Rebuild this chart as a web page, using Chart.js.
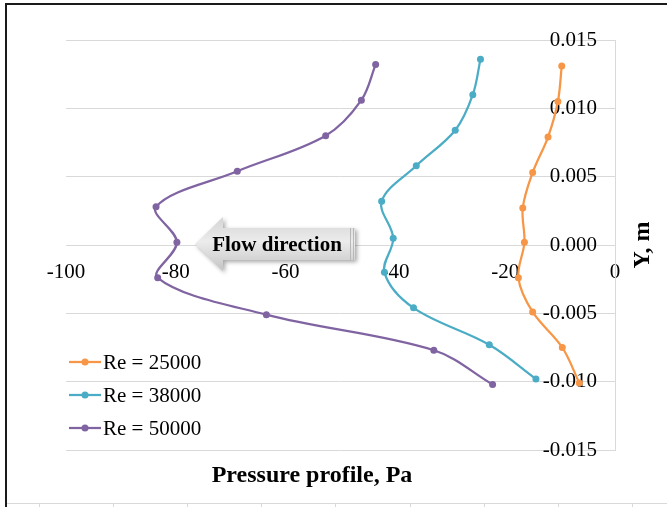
<!DOCTYPE html>
<html>
<head>
<meta charset="utf-8">
<script src="https://cdn.jsdelivr.net/npm/chart.js@4"></script>
<style>
  body { margin: 0; background: #fff; }
  #wrap { width: 667px; height: 507px; }
</style>
</head>
<body>
<div id="wrap"><canvas id="profileChart" width="667" height="507"></canvas></div>
<script>
// Data
const seriesLabels = ['Re = 25000', 'Re = 38000', 'Re = 50000'];
const seriesColors = ['#F79646', '#4BACC6', '#8064A2'];

const re25000P = [-9.7, -10.4, -12.2, -15.0, -16.8, -16.5, -17.6, -15.0, -9.6, -6.5];
const re25000Y = [0.0131, 0.0105, 0.0079, 0.0053, 0.0027, 0.0002, -0.0024, -0.0049, -0.0075, -0.0101];

const re38000P = [-24.5, -25.9, -29.1, -36.2, -42.5, -40.4, -42.0, -36.7, -22.9, -14.4];
const re38000Y = [0.0136, 0.0110, 0.0084, 0.0058, 0.0032, 0.0005, -0.0020, -0.0046, -0.0073, -0.0098];

const re50000P = [-43.6, -46.2, -52.7, -68.8, -83.6, -79.8, -83.3, -63.5, -33.0, -22.3];
const re50000Y = [0.0132, 0.0106, 0.0080, 0.0054, 0.0028, 0.0002, -0.0024, -0.0051, -0.0077, -0.0102];

const xTitle = 'Pressure profile, Pa';
const yTitle = 'Y, m';
const arrowText = 'Flow direction';
const arrowTipP = -76.5;   // pressure where the arrow tip sits, on Y = 0

const FONT = "'Liberation Serif', 'Times New Roman', serif";

function toPoints(xs, ys) {
    return xs.map((v, i) => ({ x: v, y: ys[i] }));
}

const seriesP = [re25000P, re38000P, re50000P];
const seriesY = [re25000Y, re38000Y, re50000Y];

const datasets = seriesLabels.map((label, i) => ({
    label: label,
    data: toPoints(seriesP[i], seriesY[i]),
    showLine: true,
    borderColor: seriesColors[i],
    backgroundColor: seriesColors[i],
    borderWidth: 2.25,
    pointRadius: 3.5,
    pointBorderWidth: 0,
    tension: 0.35
}));

// Frame, arrow, legend and axis titles
const decorPlugin = {
    id: 'decor',
    beforeDraw(chart) {
        const ctx = chart.ctx;
        ctx.save();
        ctx.fillStyle = '#fff';
        ctx.fillRect(0, 0, chart.width, chart.height);
        ctx.strokeStyle = '#1a1a1a';
        ctx.lineWidth = 2;
        ctx.beginPath();
        ctx.moveTo(6, chart.height);
        ctx.lineTo(6, 4);
        ctx.lineTo(chart.width, 4);
        ctx.stroke();
        // sheet cells below the chart
        ctx.strokeStyle = '#d9d9d9';
        ctx.lineWidth = 1;
        ctx.beginPath();
        ctx.moveTo(7, 503.5);
        ctx.lineTo(chart.width, 503.5);
        for (let x = 38.5; x < chart.width; x += 74.2) {
            ctx.moveTo(Math.round(x) + 0.5, 504);
            ctx.lineTo(Math.round(x) + 0.5, chart.height);
        }
        ctx.stroke();
        ctx.restore();
    },
    afterDatasetsDraw(chart) {
        const ctx = chart.ctx;
        const tipX = chart.scales.x.getPixelForValue(arrowTipP);
        const cy = chart.scales.y.getPixelForValue(0) - 1;
        const headW = 28, headH = 27, shaftH = 16, len = 160;

        ctx.save();
        ctx.beginPath();
        ctx.moveTo(tipX, cy);
        ctx.lineTo(tipX + headW, cy - headH);
        ctx.lineTo(tipX + headW, cy - shaftH);
        ctx.lineTo(tipX + len, cy - shaftH);
        ctx.lineTo(tipX + len, cy + shaftH);
        ctx.lineTo(tipX + headW, cy + shaftH);
        ctx.lineTo(tipX + headW, cy + headH);
        ctx.closePath();
        const grad = ctx.createLinearGradient(0, cy - headH, 0, cy + headH);
        grad.addColorStop(0, '#d4d4d4');
        grad.addColorStop(0.45, '#ececec');
        grad.addColorStop(1, '#c4c4c4');
        ctx.shadowColor = 'rgba(0,0,0,0.35)';
        ctx.shadowBlur = 4;
        ctx.shadowOffsetX = 2;
        ctx.shadowOffsetY = 2;
        ctx.fillStyle = grad;
        ctx.fill();
        ctx.shadowColor = 'transparent';
        // striped tail end
        ctx.strokeStyle = '#b8b8b8';
        ctx.lineWidth = 1;
        ctx.beginPath();
        [len - 5, len - 2].forEach(dx => {
            ctx.moveTo(tipX + dx + 0.5, cy - shaftH);
            ctx.lineTo(tipX + dx + 0.5, cy + shaftH);
        });
        ctx.stroke();

        ctx.fillStyle = '#000';
        ctx.font = 'bold 21px ' + FONT;
        ctx.textAlign = 'center';
        ctx.textBaseline = 'middle';
        ctx.fillText(arrowText, tipX + 82, cy + 2);
        ctx.restore();
    },
    afterDraw(chart) {
        const ctx = chart.ctx;
        const area = chart.chartArea;
        ctx.save();

        // legend inside the plot, bottom left
        chart.data.datasets.forEach((ds, i) => {
            const cy = area.bottom - 88 + i * 33;
            const x0 = area.left + 3;
            ctx.strokeStyle = ds.borderColor;
            ctx.lineWidth = 2.25;
            ctx.beginPath();
            ctx.moveTo(x0, cy);
            ctx.lineTo(x0 + 32, cy);
            ctx.stroke();
            ctx.fillStyle = ds.borderColor;
            ctx.beginPath();
            ctx.arc(x0 + 16, cy, 3.5, 0, Math.PI * 2);
            ctx.fill();
            ctx.fillStyle = '#000';
            ctx.font = '21px ' + FONT;
            ctx.textAlign = 'left';
            ctx.textBaseline = 'middle';
            ctx.fillText(ds.label, x0 + 34, cy + 1);
        });

        // axis titles
        ctx.fillStyle = '#000';
        ctx.font = 'bold 24px ' + FONT;
        ctx.textAlign = 'center';
        ctx.textBaseline = 'middle';
        ctx.fillText(xTitle, area.left + 246, area.bottom + 26);

        ctx.translate(area.right + 28, (area.top + area.bottom) / 2);
        ctx.rotate(-Math.PI / 2);
        ctx.fillText(yTitle, 0, 0);
        ctx.restore();
    }
};

function initProfileChart() {
    const ctx = document.getElementById('profileChart').getContext('2d');

    new Chart(ctx, {
        type: 'scatter',
        data: { datasets: datasets },
        options: {
            responsive: false,
            animation: false,
            devicePixelRatio: 1,
            layout: { padding: { left: 66, top: 40, right: 52, bottom: 57 } },
            plugins: {
                legend: { display: false },
                tooltip: { enabled: false }
            },
            scales: {
                x: {
                    type: 'linear',
                    position: { y: 0 },
                    min: -100,
                    max: 0,
                    afterFit: s => { s.height = 0; },
                    grid: { display: false },
                    border: { display: false },
                    ticks: {
                        stepSize: 20,
                        padding: 7,
                        color: '#000',
                        font: { family: FONT, size: 21 },
                        callback: v => Math.abs(v) < 1e-9 ? '0' : String(v)
                    }
                },
                y: {
                    type: 'linear',
                    position: 'right',
                    min: -0.015,
                    max: 0.015,
                    afterFit: s => { s.width = 0; },
                    grid: { color: '#d9d9d9', lineWidth: 1, drawTicks: false },
                    border: { display: true, color: '#d9d9d9', width: 1 },
                    ticks: {
                        stepSize: 0.005,
                        mirror: true,
                        padding: -18,
                        color: '#000',
                        font: { family: FONT, size: 21 },
                        callback: v => Math.abs(v) < 1e-9 ? '0.000' : v.toFixed(3)
                    }
                }
            }
        },
        plugins: [decorPlugin]
    });
}

document.addEventListener('DOMContentLoaded', initProfileChart);
</script>
</body>
</html>
